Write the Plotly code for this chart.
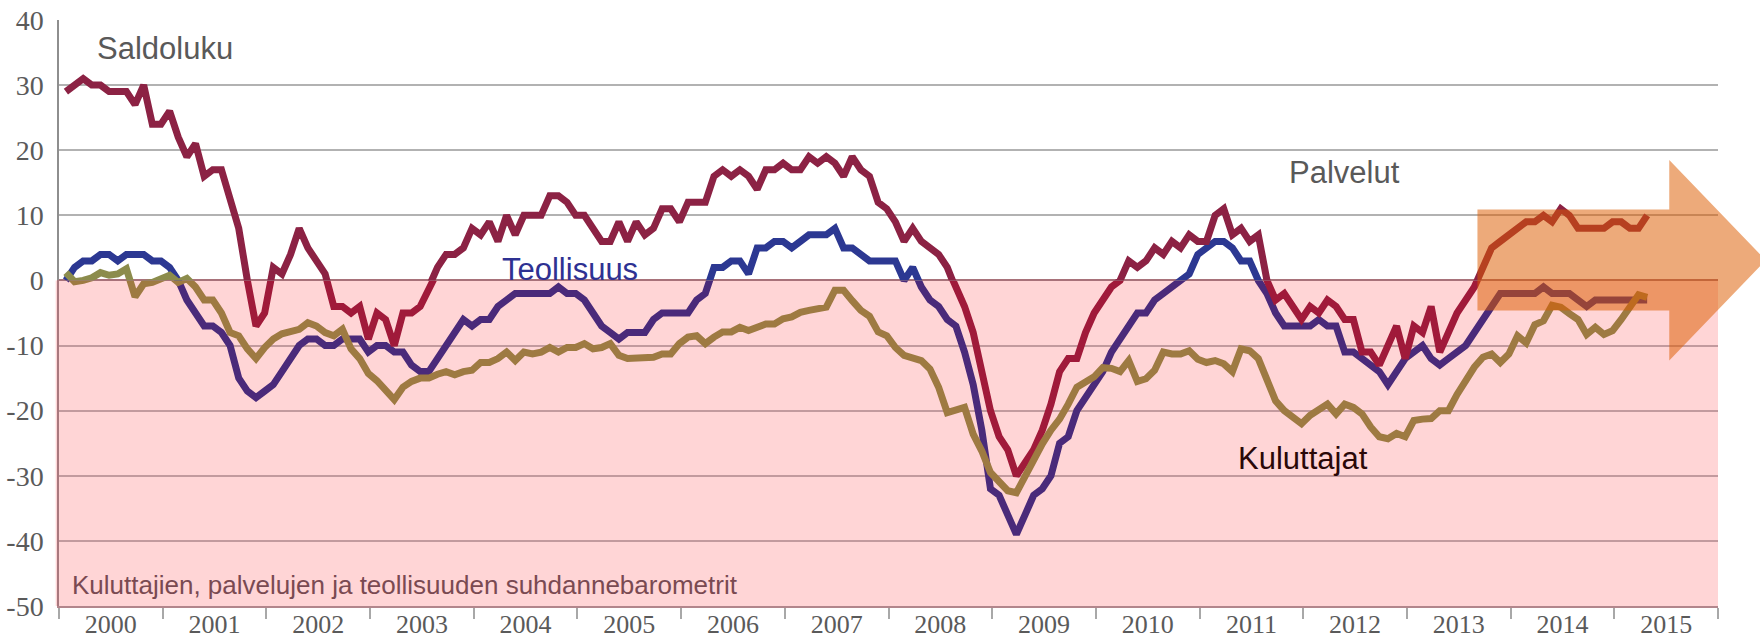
import plotly.graph_objects as go

# ---------------- data (monthly, Jan 2000 - Apr 2015) ----------------
years = [str(y) for y in range(2000, 2016)]

palvelut = [
    29, 30, 31, 30, 30, 29, 29, 29, 27, 30, 24, 24,
    26, 22, 19, 21, 16, 17, 17, 12, 8, 0, -7, -5,
    2, 1, 4, 8, 5, 3, 1, -4, -4, -5, -4, -9,
    -5, -6, -10, -5, -5, -4, -1, 2, 4, 4, 5, 8,
    7, 9, 6, 10, 7, 10, 10, 10, 13, 13, 12, 10,
    10, 8, 6, 6, 9, 6, 9, 7, 8, 11, 11, 9,
    12, 12, 12, 16, 17, 16, 17, 16, 14, 17, 17, 18,
    17, 17, 19, 18, 19, 18, 16, 19, 17, 16, 12, 11,
    9, 6, 8, 6, 5, 4, 2, -1, -4, -8, -14, -20,
    -24, -26, -30, -28, -26, -23, -19, -14, -12, -12, -8, -5,
    -3, -1, 0, 3, 2, 3, 5, 4, 6, 5, 7, 6,
    6, 10, 11, 7, 8, 6, 7, 0, -3, -2, -4, -6,
    -4, -5, -3, -4, -6, -6, -11, -11, -13, -10, -7, -12,
    -7, -8, -4, -11, -8, -5, -3, -1, 2, 5, 6, 7,
    8, 9, 9, 10, 9, 11, 10, 8, 8, 8, 8, 9,
    9, 8, 8, 10,
]

teollisuus = [
    0, 2, 3, 3, 4, 4, 3, 4, 4, 4, 3, 3,
    2, 0, -3, -5, -7, -7, -8, -10, -15, -17, -18, -17,
    -16, -14, -12, -10, -9, -9, -10, -10, -9, -9, -9, -11,
    -10, -10, -11, -11, -13, -14, -14, -12, -10, -8, -6, -7,
    -6, -6, -4, -3, -2, -2, -2, -2, -2, -1, -2, -2,
    -3, -5, -7, -8, -9, -8, -8, -8, -6, -5, -5, -5,
    -5, -3, -2, 2, 2, 3, 3, 1, 5, 5, 6, 6,
    5, 6, 7, 7, 7, 8, 5, 5, 4, 3, 3, 3,
    3, 0, 2, -1, -3, -4, -6, -7, -11, -16, -23, -32,
    -33, -36, -39, -36, -33, -32, -30, -25, -24, -20, -18, -16,
    -14, -11, -9, -7, -5, -5, -3, -2, -1, 0, 1, 4,
    5, 6, 6, 5, 3, 3, 0, -2, -5, -7, -7, -7,
    -7, -6, -7, -7, -11, -11, -12, -13, -14, -16, -14, -12,
    -11, -10, -12, -13, -12, -11, -10, -8, -6, -4, -2, -2,
    -2, -2, -2, -1, -2, -2, -2, -3, -4, -3, -3, -3,
    -3, -3, -3, -3,
]

kuluttajat = [
    1.2, -0.2, 0, 0.4, 1.2, 0.8, 1, 1.8, -2.5, -0.5, -0.3, 0.4,
    0.8, -0.3, 0.3, -1, -3, -3, -5, -8, -8.5, -10.5, -12, -10.3,
    -9, -8.2, -7.9, -7.5, -6.5, -7, -8, -8.5, -7.5, -10.5, -12, -14.3,
    -15.4, -17, -18.3, -16.4, -15.5, -15, -15, -14.4, -14, -14.5, -14, -13.8,
    -12.6, -12.6, -12, -11, -12.3, -11, -11.3, -11, -10.3, -11, -10.3, -10.3,
    -9.7, -10.5, -10.3, -9.7, -11.5, -12, -12, -12, -11.8, -11.3, -11.3, -9.7,
    -8.7, -8.5, -9.7, -8.7, -7.9, -7.9, -7.2, -7.7, -7.2, -6.7, -6.7, -5.9,
    -5.6, -4.9, -4.6, -4.3, -4.1, -1.5, -1.5, -3.1, -4.6, -5.5, -7.9, -8.5,
    -10.3, -11.5, -11.8, -12.3, -13.6, -16.4, -20.3, -20, -19.5, -23.6, -26.2, -29.5,
    -30.8, -32.3, -32.6, -30, -27.3, -25.1, -23, -21.3, -19, -16.4, -15.6, -14.8,
    -13.4, -13.5, -14, -12.3, -15.5, -15.1, -13.8, -11, -11.3, -11.3, -10.8, -12.1,
    -12.6, -12.3, -12.8, -14, -10.5, -10.8, -12, -15, -18.5, -20, -21, -22,
    -20.7, -20, -19, -20.5, -19, -19.5, -20.5, -22.5, -24, -24.3, -23.5, -24,
    -21.5, -21.3, -21.2, -20, -20, -17.5, -15.4, -13.3, -11.8, -11.3, -12.6, -11.3,
    -8.5, -9.6, -6.8, -6.2, -3.8, -4.1, -5.1, -6, -8.3, -7.2, -8.3, -7.7,
    -6, -4.1, -2.2, -2.6,
]

upper_ticks = [0, 10, 20, 30, 40]
lower_ticks = [-50, -40, -30, -20, -10]

# ---------------- styling ----------------
X0, X1 = 2000, 2016
Y_LO, Y_HI = -50, 40
SPLIT = (0 - Y_LO) / (Y_HI - Y_LO)  # domain fraction of negative part

x = [X0 + (i + 0.8) / 12 for i in range(len(palvelut))]

series = [
    (teollisuus, "#2C3892", "#4A2A7A"),
    (palvelut, "#8C2244", "#A01A3A"),
    (kuluttajat, "#8C8C4C", "#9E7A42"),
]

LW = 7

fig = go.Figure()
for vals, c_up, c_dn in series:
    fig.add_trace(go.Scatter(x=x, y=vals, mode="lines", xaxis="x2", yaxis="y",
                             line=dict(color=c_up, width=LW), hoverinfo="skip",
                             showlegend=False))
    fig.add_trace(go.Scatter(x=x, y=vals, mode="lines", xaxis="x", yaxis="y2",
                             line=dict(color=c_dn, width=LW), hoverinfo="skip",
                             showlegend=False))


def px(year):
    return (year - X0) / (X1 - X0)


def py(v):
    return (v - Y_LO) / (Y_HI - Y_LO)


shapes = [
    # pink background of the negative area
    dict(type="rect", xref="paper", yref="paper", x0=-0.002, x1=1.0, y0=0, y1=SPLIT,
         fillcolor="#FFD5D6", line=dict(width=0), layer="below"),
]

# forward arrow (semi transparent orange)
ax_l, ax_b, ax_t = 2013.68, 2015.53, 2016.46
ay_t, ay_b, ah_t, ah_b = 10.9, -4.6, 18.5, -12.3
ay_c = (ah_t + ah_b) / 2
path = (f"M {px(ax_l)},{py(ay_t)} L {px(ax_b)},{py(ay_t)} L {px(ax_b)},{py(ah_t)} "
        f"L {px(ax_t)},{py(ay_c)} L {px(ax_b)},{py(ah_b)} L {px(ax_b)},{py(ay_b)} "
        f"L {px(ax_l)},{py(ay_b)} Z")
shapes.append(dict(type="path", xref="paper", yref="paper", path=path,
                   fillcolor="rgba(220,92,0,0.52)", line=dict(width=0), layer="above"))

lab_font = "Liberation Sans, Arial, sans-serif"
annotations = [
    dict(text="Saldoluku", x=2000.344, y=py(35.62), font=dict(size=31, color="#595959")),
    dict(text="Palvelut", x=2011.846, y=py(16.64), font=dict(size=31, color="#595959")),
    dict(text="Teollisuus", x=2004.25, y=py(1.75), font=dict(size=31, color="#2E3192")),
    dict(text="Kuluttajat", x=2011.349, y=py(-27.3), font=dict(size=31, color="#2A0808")),
    dict(text="Kuluttajien, palvelujen ja teollisuuden suhdannebarometrit",
         x=2000.103, y=py(-46.71), font=dict(size=26, color="#7A4A52")),
]
for a in annotations:
    a.update(xref="x", yref="paper", xanchor="left", yanchor="middle", showarrow=False)
    a["font"]["family"] = lab_font

y_tick_font = dict(family="Liberation Serif, Times New Roman, serif", size=28, color="#5A5A5A")
x_tick_font = dict(family="Liberation Serif, Times New Roman, serif", size=26, color="#5A5A5A")

fig.update_layout(
    width=1760, height=640,
    margin=dict(l=59, r=42, t=20, b=34, autoexpand=False),
    paper_bgcolor="white", plot_bgcolor="rgba(0,0,0,0)",
    showlegend=False, hovermode=False,
    shapes=shapes, annotations=annotations,
    xaxis=dict(domain=[0, 1], range=[X0, X1], anchor="y2", automargin=False,
               tickmode="array", tickvals=[y + 0.5 for y in range(X0, X1)], ticktext=years,
               ticks="", ticklabelstandoff=-6, tickfont=x_tick_font,
               showgrid=False, zeroline=False,
               showline=True, linecolor="#B2868C", linewidth=1.5,
               minor=dict(tickmode="array", tickvals=list(range(X0, X1 + 1)),
                          ticks="outside", ticklen=11, tickwidth=1.5,
                          tickcolor="#A8A8A8", showgrid=False)),
    xaxis2=dict(domain=[0, 1], range=[X0, X1], anchor="y", matches="x", visible=False,
                automargin=False),
    yaxis=dict(domain=[SPLIT, 1], range=[0, Y_HI], anchor="x2", automargin=False,
               tickmode="array", tickvals=upper_ticks, ticktext=[str(v) for v in upper_ticks],
               ticks="", ticklabelstandoff=8, tickfont=y_tick_font,
               showgrid=True, gridcolor="#B2B2B2", gridwidth=1.5,
               zeroline=True, zerolinecolor="#A8727A", zerolinewidth=1.5,
               showline=True, linecolor="#8E8E8E", linewidth=1.5),
    yaxis2=dict(domain=[0, SPLIT], range=[Y_LO, 0], anchor="x", automargin=False,
                tickmode="array", tickvals=lower_ticks, ticktext=[str(v) for v in lower_ticks],
                ticks="", ticklabelstandoff=8, tickfont=y_tick_font,
                showgrid=True, gridcolor="#C29A9E", gridwidth=1.5,
                zeroline=False,
                showline=True, linecolor="#A8787E", linewidth=1.5),
)

fig.write_html("out.html",
               config={"displayModeBar": False},
               post_script="document.body.style.margin='0';document.body.style.overflow='hidden';")
